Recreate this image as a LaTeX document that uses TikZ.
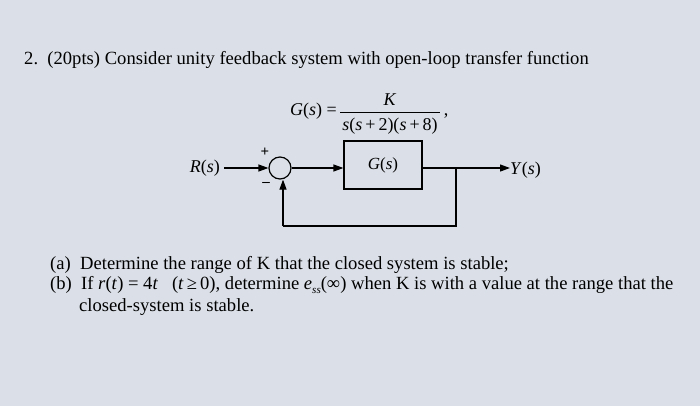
\documentclass[tikz,border=0pt]{standalone}
\usepackage{fontspec}
\setmainfont{Liberation Serif}
\usetikzlibrary{arrows.meta}
\definecolor{paper}{rgb}{0.86,0.88,0.91}
\newcommand{\iv}[1]{\textit{#1}}
\begin{document}
\begin{tikzpicture}[x=1pt,y=-1pt,
  txt/.style={anchor=west,inner sep=0pt,font=\fontsize{18.6}{20}\selectfont},
  dtxt/.style={inner sep=0pt,font=\fontsize{18}{20}\selectfont},
  sig/.style={line width=1.2pt,-{Triangle[length=10pt,width=7pt]}},
  ln/.style={line width=1.2pt}]
\fill[paper] (0,0) rectangle (700,406);
\useasboundingbox (0,0) rectangle (700,406);
\node[txt] (t1) at (24,60) {2.\ \ (20pts) Consider unity feedback system with open-loop transfer function};
\node[dtxt,anchor=east] (gs) at (337,111) {\iv{G}(\iv{s}) =};
\node[dtxt] (num) at (390,100) {\iv{K}};
\draw[line width=0.7pt] (340,112) -- (440,112);
\node[dtxt] (den) at (390,126) {\iv{s}(\iv{s}\,+\,2)(\iv{s}\,+\,8)};
\node[dtxt] (cm) at (446,116) {,};
\node[draw,line width=1.2pt,minimum width=78pt,minimum height=48pt,inner sep=0pt,font=\fontsize{17}{18}\selectfont] (G) at (383,165) {\iv{G}(\iv{s})};
\node[draw,circle,line width=1.2pt,minimum size=22pt,inner sep=0pt] (S) at (280,168) {};
\node[dtxt,anchor=east] (R) at (220,168) {\iv{R}(\iv{s})};
\node[dtxt,anchor=west] (Y) at (510,170) {\iv{Y}(\iv{s})};
\coordinate (br) at (456,168);
\coordinate (bb) at (456,226);
\coordinate (sb) at (283,226);
\draw[ln] (R.east) ++(4,0) coordinate (rs);
\draw[sig] (rs) -- (S);
\draw[sig] (S) -- (S -| G.west);
\draw[ln] (S -| G.east) -- (br);
\draw[sig] (br) -- (br -| Y.west);
\draw[ln] (br) -- (bb) -- (sb);
\draw[sig] (sb) -- (S.south -| sb);
\node[font=\bfseries\fontsize{15}{16}\selectfont] (pl) at (265,152) {+};
\node[font=\bfseries\fontsize{15}{16}\selectfont] (mi) at (266,184) {--};
\node[txt] (a) at (50,265) {(a)\ \ Determine the range of K that the closed system is stable;};
\node[txt] (b) at (50,285) {(b)\ \ If \iv{r}(\iv{t}) = 4\iv{t}\ \ \ (\iv{t}\,≥\,0), determine \iv{e}\raisebox{-4pt}{\fontsize{11}{12}\selectfont\iv{ss}}(∞) when K is with a value at the range that the};
\node[txt] (c) at (79,307) {closed-system is stable.};
\end{tikzpicture}
\end{document}
